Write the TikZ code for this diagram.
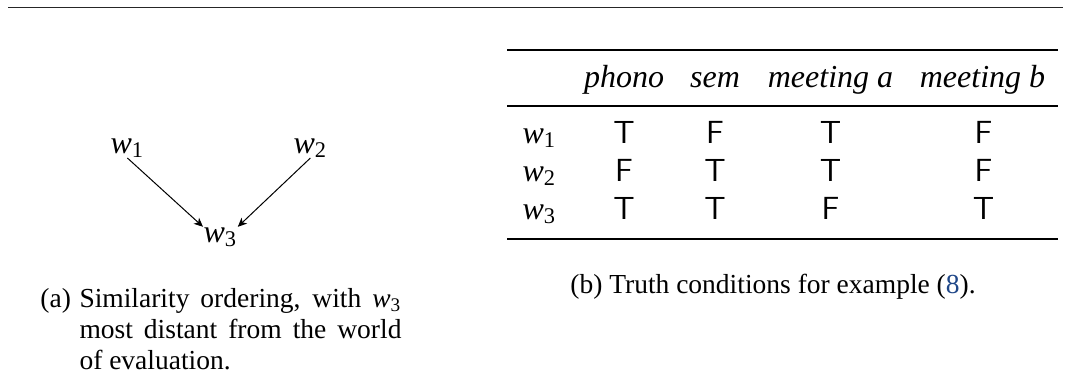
\documentclass[tikz,border=0pt]{standalone}
\usepackage{fontspec}
\setmainfont{Liberation Serif}
\usetikzlibrary{arrows.meta}
\definecolor{linkblue}{RGB}{31,71,136}
\newcommand{\wv}[1]{\textit{w}\textsubscript{#1}}
\newlength{\capw}
\setlength{\capw}{128.8pt}
\tikzset{
  mainfont/.style={font=\fontsize{12.8}{15}\selectfont, inner sep=0pt},
  capfont/.style={font=\fontsize{11}{13}\selectfont, inner sep=0pt},
  cell/.style={mainfont, anchor=base},
  lbl/.style={mainfont, anchor=base west},
  capline/.style={capfont, anchor=base west},
  arr/.style={-{Stealth[length=3.6pt,width=3.2pt,inset=1pt]}, line width=0.4pt},
  heavyrule/.style={line width=0.8pt},
  lightrule/.style={line width=0.5pt},
}
\begin{document}
\begin{tikzpicture}[x=0.4pt,y=-0.4pt]
\useasboundingbox (0,0) rectangle (1071,375);
% page rule
\draw[line width=0.5pt, black!85] (8,7.5) -- (1063,7.5);

% (a) diagram
\node[lbl] (w1) at (110,153) {\wv{1}};
\node[lbl] (w2) at (293,153) {\wv{2}};
\node[lbl] (w3) at (203,242) {\wv{3}};
\draw[arr] (w1.south) -- (w3.north west);
\draw[arr] (w2.south) -- (w3.north east);

% (a) caption
\node[capline] (capa) at (40,307) {(a)};
\node[capline] (capa1) at (79,307) {\hbox to \capw{Similarity ordering, with \wv{3}}};
\node[capline] (capa2) at (79,338) {\hbox to \capw{most distant from the world}};
\node[capline] (capa3) at (79,369) {of evaluation.};

% (b) table
\draw[heavyrule] (507,50) -- (1058,50);
\draw[lightrule] (507,106) -- (1058,106);
\draw[heavyrule] (507,239) -- (1058,239);

\node[cell] (h1) at (624,87) {\textit{phono}};
\node[cell] (h2) at (715,87) {\textit{sem}};
\node[cell] (h3) at (830.5,87) {\textit{meeting a}};
\node[cell] (h4) at (982.5,87) {\textit{meeting b}};

\node[lbl] (r1) at (522,143) {\wv{1}};
\node[lbl] (r2) at (522,181) {\wv{2}};
\node[lbl] (r3) at (522,219) {\wv{3}};

\node[cell] (c11) at (624,143) {\textsf{T}};
\node[cell] (c12) at (715,143) {\textsf{F}};
\node[cell] (c13) at (830.5,143) {\textsf{T}};
\node[cell] (c14) at (983.5,143) {\textsf{F}};
\node[cell] (c21) at (624,181) {\textsf{F}};
\node[cell] (c22) at (715,181) {\textsf{T}};
\node[cell] (c23) at (830.5,181) {\textsf{T}};
\node[cell] (c24) at (983.5,181) {\textsf{F}};
\node[cell] (c31) at (624,219) {\textsf{T}};
\node[cell] (c32) at (715,219) {\textsf{T}};
\node[cell] (c33) at (830.5,219) {\textsf{F}};
\node[cell] (c34) at (983.5,219) {\textsf{T}};

% (b) caption
\node[capfont, anchor=base] (capb) at (773,293) {(b) Truth conditions for example ({\color{linkblue}8}).};
\end{tikzpicture}
\end{document}
